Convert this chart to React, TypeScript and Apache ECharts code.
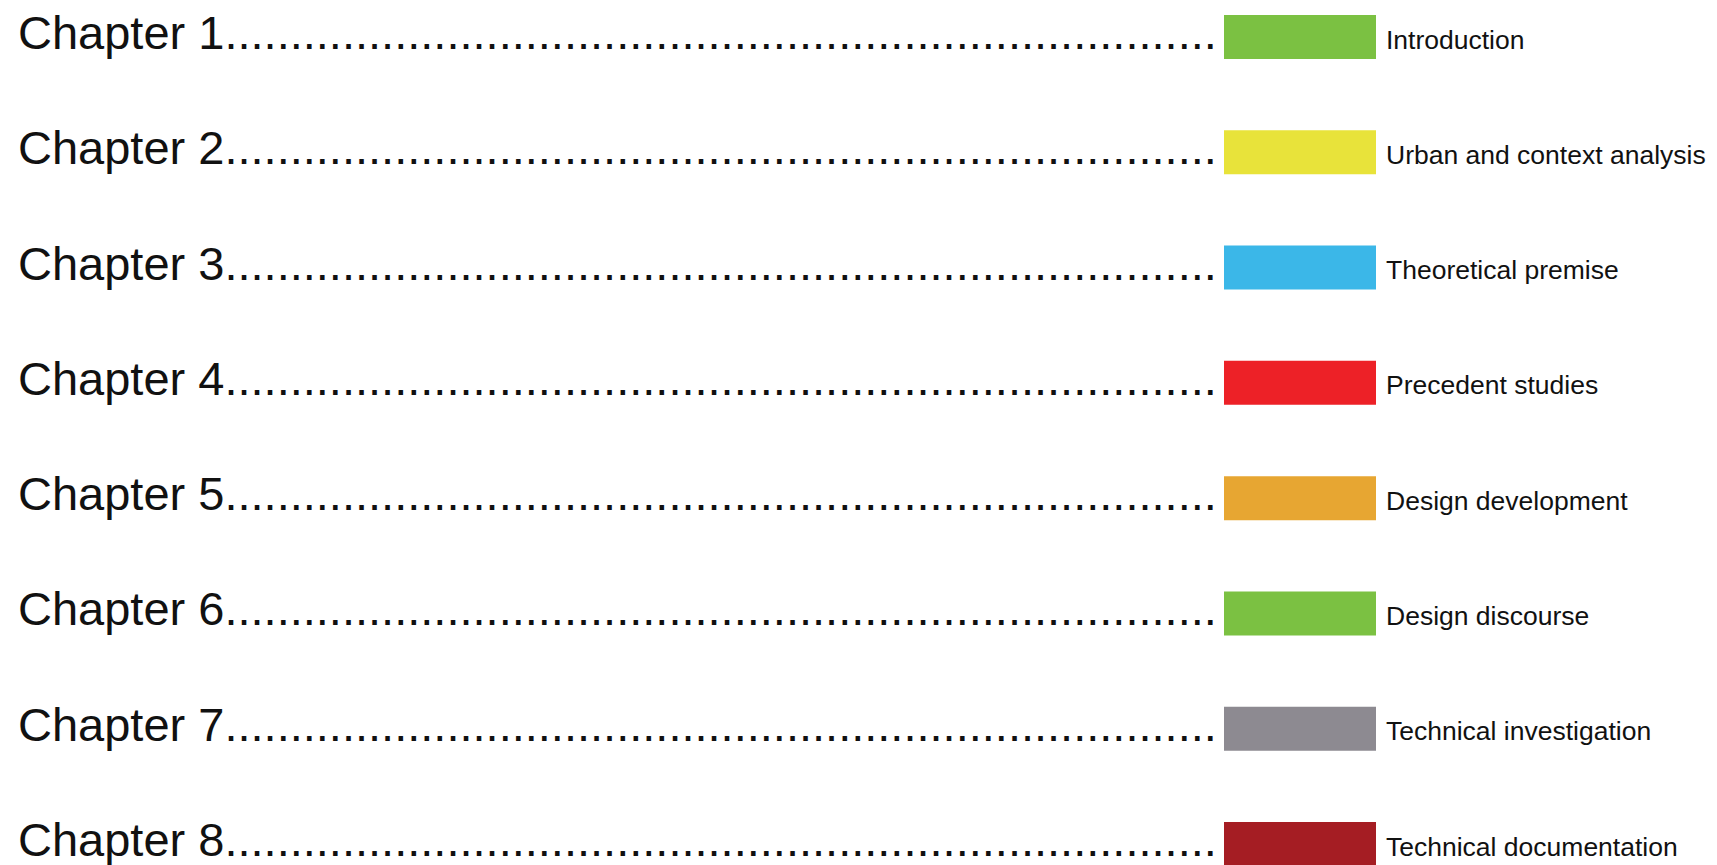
import React, { useEffect, useRef } from "react";
import * as echarts from "echarts";

const chapters = ["Chapter 1", "Chapter 2", "Chapter 3", "Chapter 4", "Chapter 5", "Chapter 6", "Chapter 7", "Chapter 8"];
const topics = [
  "Introduction",
  "Urban and context analysis",
  "Theoretical premise",
  "Precedent studies",
  "Design development",
  "Design discourse",
  "Technical investigation",
  "Technical documentation",
];
const swatchColors = ["#7bc142", "#e8e33a", "#3bb7e8", "#ed2127", "#e7a632", "#7bc142", "#8d8a91", "#a51d23"];
const leader = ".".repeat(76);

const FONT = "'Liberation Sans', Arial, Helvetica, sans-serif";
const W = 1717;
const H = 865;
const SWATCH_LEFT = 1224;
const SWATCH_W = 152;
const SWATCH_H = 44;

export default function App() {
  const ref = useRef<HTMLDivElement>(null);
  useEffect(() => {
    if (!ref.current) return;
    const chart = echarts.init(ref.current, undefined, { renderer: "svg" });
    chart.setOption({
      animation: false,
      backgroundColor: "#ffffff",
      grid: { left: 0, right: 0, top: 37, bottom: 21, containLabel: false },
      xAxis: {
        type: "value",
        min: 0,
        max: W,
        show: false,
      },
      yAxis: {
        type: "category",
        data: chapters,
        inverse: true,
        boundaryGap: false,
        axisLine: { show: false },
        axisTick: { show: false },
        splitLine: { show: false },
        axisLabel: {
          inside: true,
          margin: 18,
          fontSize: 47,
          lineHeight: 9,
          verticalAlign: "bottom",
          fontFamily: FONT,
          color: "#111111",
          formatter: (v: string) => v + leader,
        },
      },
      series: [
        {
          type: "scatter",
          silent: true,
          symbol: "rect",
          symbolSize: [SWATCH_W, SWATCH_H],
          itemStyle: { opacity: 1 },
          data: chapters.map((c, i) => ({
            value: [SWATCH_LEFT + SWATCH_W / 2, c],
            itemStyle: { color: swatchColors[i], opacity: 1 },
            label: { formatter: topics[i] },
          })),
          label: {
            show: true,
            position: "right",
            distance: 10,
            offset: [0, 2.5],
            fontSize: 26.5,
            fontFamily: FONT,
            color: "#111111",
          },
        },
      ],
    });
    return () => chart.dispose();
  }, []);
  return <div ref={ref} style={{ position: "fixed", left: 0, top: 0, width: W, height: H, background: "#fff" }} />;
}
